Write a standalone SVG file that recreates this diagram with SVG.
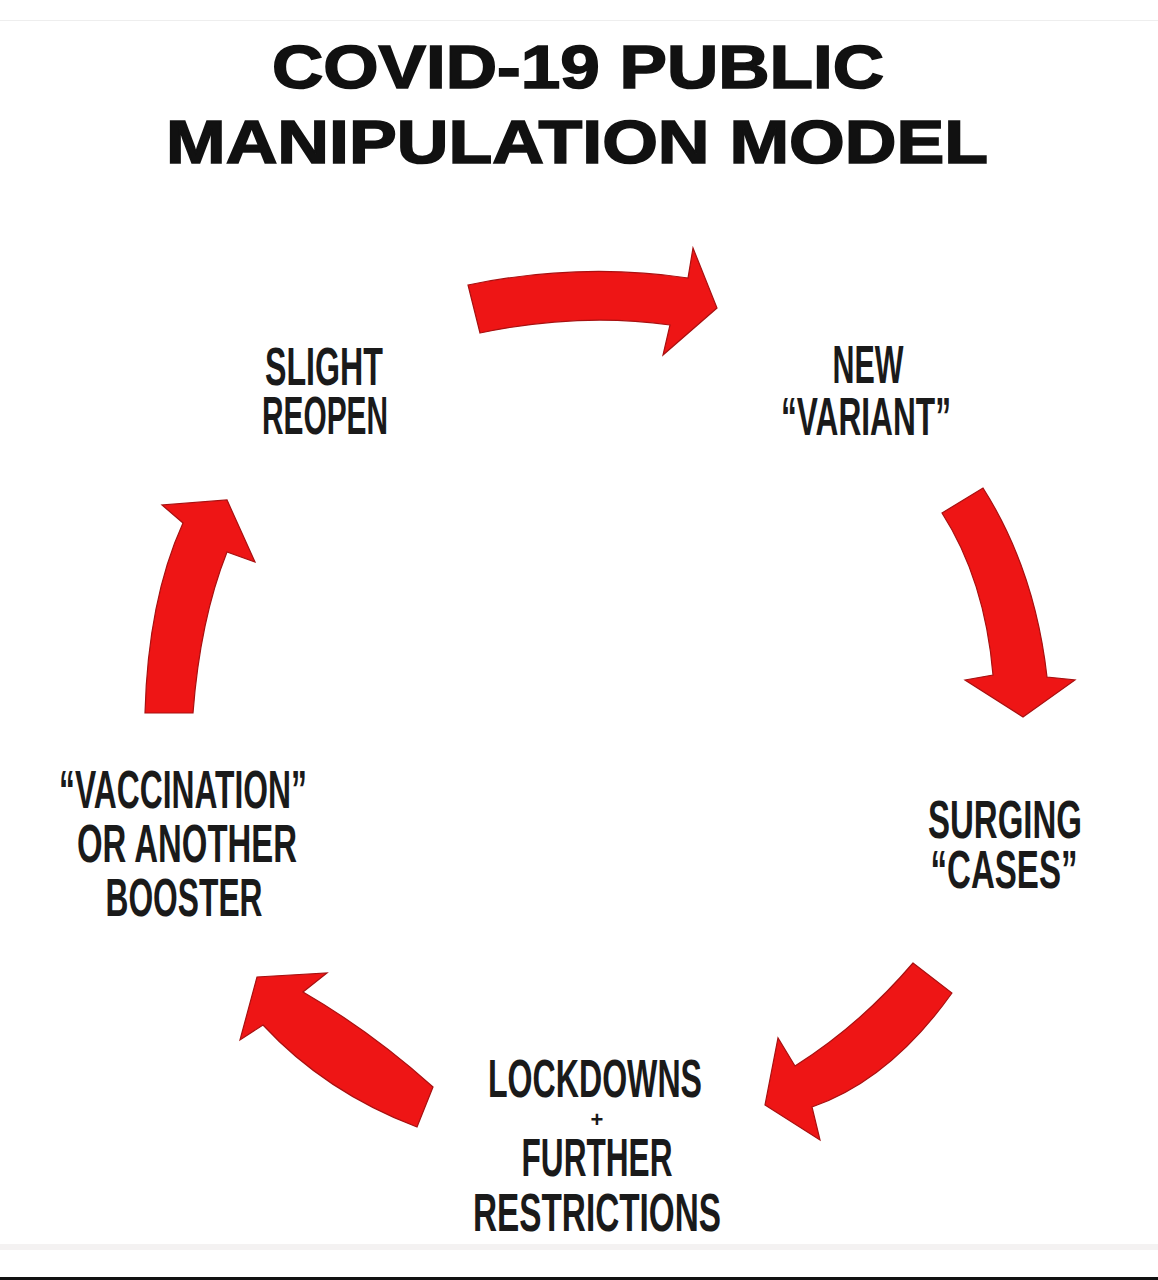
<svg xmlns="http://www.w3.org/2000/svg" width="1158" height="1280" viewBox="0 0 1158 1280">
  <style>
    .title { font-family: "Liberation Sans", Arial, sans-serif; font-weight: bold; font-size: 62px; fill: #111; stroke: #111; stroke-width: 1.6px; text-anchor: middle; }
    .lbl { font-family: "Liberation Sans Narrow", "Liberation Sans", Arial, sans-serif; font-weight: bold; font-size: 54px; fill: #1a1a1a; text-anchor: middle; }
    .plus { font-family: "Liberation Sans", Arial, sans-serif; font-weight: bold; font-size: 22px; fill: #1a1a1a; text-anchor: middle; }
    .arrow { fill: #ee1515; stroke: #a81010; stroke-width: 1.2px; stroke-linejoin: miter; }
  </style>
  <rect x="0" y="0" width="1158" height="1280" fill="#ffffff"/>
  <line x1="0" y1="20.5" x2="1158" y2="20.5" stroke="#eeeeee" stroke-width="1"/>
  <rect x="0" y="1244" width="1158" height="6" fill="#f4f2f2"/>
  <rect x="0" y="1277" width="1158" height="3" fill="#111111"/>

  <g id="title">
    <text class="title" x="578" y="88" textLength="612" lengthAdjust="spacingAndGlyphs">COVID-19 PUBLIC</text>
    <text class="title" x="577" y="163" textLength="822" lengthAdjust="spacingAndGlyphs">MANIPULATION MODEL</text>
  </g>

  <g id="node-slight-reopen">
    <text class="lbl" x="324" y="385" textLength="118" lengthAdjust="spacingAndGlyphs">SLIGHT</text>
    <text class="lbl" x="325" y="434" textLength="126" lengthAdjust="spacingAndGlyphs">REOPEN</text>
  </g>
  <g id="node-new-variant">
    <text class="lbl" x="868" y="383" textLength="71" lengthAdjust="spacingAndGlyphs">NEW</text>
    <text class="lbl" x="866" y="435" textLength="170" lengthAdjust="spacingAndGlyphs">“VARIANT”</text>
  </g>
  <g id="node-surging-cases">
    <text class="lbl" x="1005" y="838" textLength="154" lengthAdjust="spacingAndGlyphs">SURGING</text>
    <text class="lbl" x="1004" y="888" textLength="147" lengthAdjust="spacingAndGlyphs">“CASES”</text>
  </g>
  <g id="node-lockdowns">
    <text class="lbl" x="595" y="1097" textLength="214" lengthAdjust="spacingAndGlyphs">LOCKDOWNS</text>
    <text class="plus" x="597" y="1127">+</text>
    <text class="lbl" x="597" y="1176" textLength="151" lengthAdjust="spacingAndGlyphs">FURTHER</text>
    <text class="lbl" x="597" y="1231" textLength="248" lengthAdjust="spacingAndGlyphs">RESTRICTIONS</text>
  </g>
  <g id="node-vaccination">
    <text class="lbl" x="183" y="808" textLength="248" lengthAdjust="spacingAndGlyphs">“VACCINATION”</text>
    <text class="lbl" x="187" y="862" textLength="220" lengthAdjust="spacingAndGlyphs">OR ANOTHER</text>
    <text class="lbl" x="184" y="916" textLength="157" lengthAdjust="spacingAndGlyphs">BOOSTER</text>
  </g>

  <g id="connectors">
    <path class="arrow" d="M468,285 Q580,262 688,278 L693,248 L717,308 L663,355 L670,325 Q580,312 480,333 Z"/>
    <path class="arrow" d="M942,513 L983,488 Q1035,570 1047,677 L1075,680 L1023,717 L965,680 L993,675 Q985,580 942,513 Z"/>
    <path class="arrow" d="M913,963 L952,993 Q890,1080 812,1107 L820,1140 L765,1105 L778,1038 L795,1066 Q860,1025 913,963 Z"/>
    <path class="arrow" d="M433,1087 L417,1127 Q325,1092 263,1025 L240,1040 L257,977 L327,973 L303,992 Q372,1032 433,1087 Z"/>
    <path class="arrow" d="M145,713 Q148,600 183,523 L162,505 L227,500 L255,562 L227,552 Q200,620 193,713 Z"/>
  </g>
</svg>
